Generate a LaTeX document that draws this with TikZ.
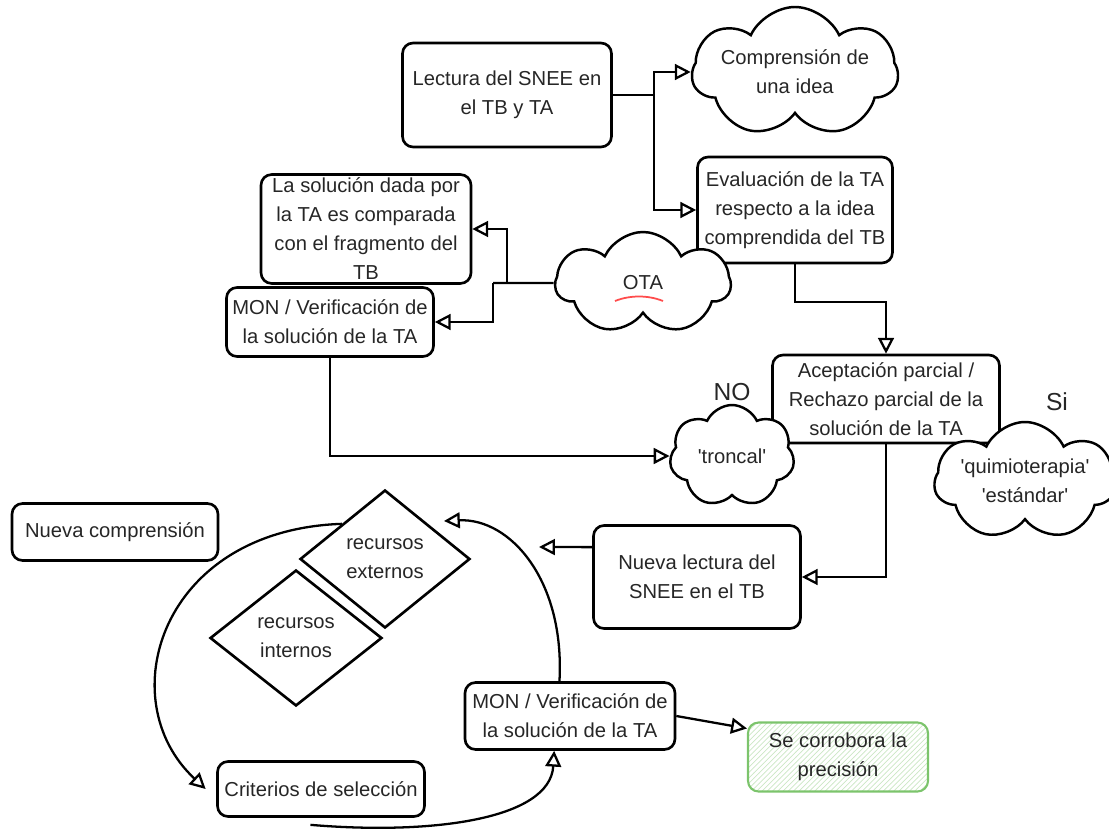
\documentclass[tikz,border=0pt]{standalone}
\usepackage{fontspec}
\setmainfont{Liberation Sans}
\usepackage{tikz}
\usetikzlibrary{shapes.geometric,shapes.symbols,arrows.meta,patterns,calc}

\definecolor{inkgray}{HTML}{262626}
\definecolor{okgreen}{HTML}{7CC46C}

\begin{document}
\begin{tikzpicture}[x=0.02cm,y=-0.02cm,
    font=\fontsize{11.5}{16.5}\selectfont,
    box/.style={draw=black,line width=1.5pt,rounded corners=6pt,align=center,text=inkgray,inner sep=2pt},
    nube/.style={cloud,draw=black,fill=white,line width=1.4pt,cloud puffs=7,cloud puff arc=130,cloud ignores aspect,align=center,text=inkgray,inner sep=0pt},
    rombo/.style={diamond,draw=black,line width=1.5pt,align=center,text=inkgray,inner sep=0pt},
    conn/.style={line width=1.3pt,-{Triangle[open,length=9pt,width=9pt,line width=1.3pt]}},
    trazo/.style={line width=1.3pt},
    hand/.style={font=\fontsize{14}{16}\selectfont,text=inkgray}]

    \useasboundingbox (0,0) rectangle (1109,831);

    % Nodes
    \node[box,minimum width=4.18cm,minimum height=2.08cm] (lect) at (507,95) {Lectura del SNEE en\\el TB y TA};
    \node[nube,minimum width=3.4cm,minimum height=2.6cm] (comp) at (795,72) {Comprensión de\\una idea};
    \node[box,minimum width=3.9cm,minimum height=2.12cm] (eval) at (795,210) {Evaluación de la TA\\respecto a la idea\\comprendida del TB};
    \node[box,minimum width=4.2cm,minimum height=2.04cm] (sol) at (366,229) {La solución dada por\\la TA es comparada\\con el fragmento del\\TB};
    \node[box,minimum width=4.14cm,minimum height=1.38cm] (mon1) at (330,322) {MON / Verificación de\\la solución de la TA};
    \node[nube,minimum width=3.5cm,minimum height=2.04cm] (ota) at (643,283) {OTA};
    \node[box,minimum width=4.54cm,minimum height=1.76cm] (acep) at (886,399) {Aceptación parcial /\\Rechazo parcial de la\\solución de la TA};
    \node[nube,minimum width=2.5cm,minimum height=2.04cm] (tron) at (732,456) {\textquotesingle troncal\textquotesingle};
    \node[nube,minimum width=3.28cm,minimum height=2.36cm] (quim) at (1025,481) {\textquotesingle quimioterapia\textquotesingle\\\textquotesingle estándar\textquotesingle};
    \node[hand] (no) at (732,392) {NO};
    \node[hand] (si) at (1057,402) {Si};
    \node[box,minimum width=4.14cm,minimum height=2.06cm] (nlec) at (697,577) {Nueva lectura del\\SNEE en el TB};
    \node[box,minimum width=4.12cm,minimum height=1.14cm] (ncomp) at (115,532) {Nueva comprensión};
    \node[rombo,minimum width=3.4cm,minimum height=2.76cm] (ext) at (385,559) {recursos\\externos};
    \node[rombo,minimum width=3.44cm,minimum height=2.72cm] (int) at (296,638) {recursos\\internos};
    \node[box,minimum width=4.2cm,minimum height=1.34cm] (mon2) at (570,716) {MON / Verificación de\\la solución de la TA};
    \node[box,minimum width=4.14cm,minimum height=1.1cm] (crit) at (321,789) {Criterios de selección};
    \node[box,draw=okgreen,line width=1.2pt,pattern=north east lines,pattern color=okgreen!40,minimum width=3.6cm,minimum height=1.38cm] (corr) at (838,757) {};
    \node[align=center,text=inkgray] at (corr) {Se corrobora la\\precisión};

    % red mark under OTA
    \draw[red!70,line width=1pt] (615,301) .. controls (630,295) and (648,295) .. (663,301);

    % Coordinates
    \coordinate (split2) at (507,283);
    \coordinate (split3) at (493,283);
    \coordinate (nlecend) at (539,547);
    \coordinate (extend) at (444,521);

    % Connectors
    \draw[conn] (lect.east) -- ++(41,0) |- (comp.west);
    \draw[conn] (lect.east) -- ++(41,0) |- (eval.west);
    \draw[conn] (eval.south) -- ++(0,38) -| (acep.north);
    \draw[trazo] (ota.west) -- (split3);
    \draw[conn] (split2) |- (sol.east);
    \draw[conn] (split3) |- (mon1.east);
    \draw[conn] (mon1.south) |- (tron.west);
    \draw[conn] (acep.south) |- (nlec.east);
    \draw[conn] ([yshift=17pt]nlec.west) -- (nlecend);
    \draw[conn] ([xshift=-6pt]mon2.north) .. controls (565,580) and (510,518) .. (extend);
    \draw[conn] ($(ext.west)!0.5!(ext.north)$) .. controls (160,530) and (110,700) .. ([xshift=-6pt]crit.west);
    \draw[conn] ([xshift=-6pt,yshift=-4pt]crit.south) .. controls (430,835) and (550,820) .. ([xshift=-9pt]mon2.south);
    \draw[conn] (mon2.east) -- ([yshift=-4pt]corr.north west);

\end{tikzpicture}
\end{document}
